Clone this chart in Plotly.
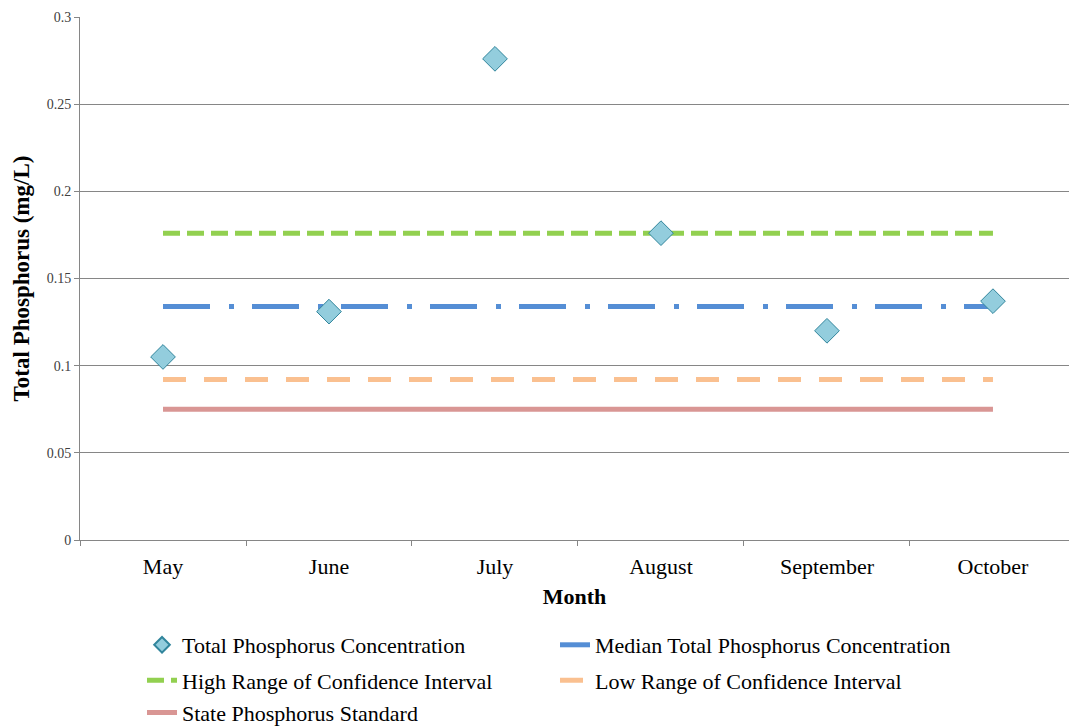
import plotly.graph_objects as go

months = ["May", "June", "July", "August", "September", "October"]
tp_conc = [0.105, 0.131, 0.276, 0.176, 0.120, 0.137]
median_tp = [0.134, 0.134, 0.134, 0.134, 0.134, 0.134]
high_ci = [0.176, 0.176, 0.176, 0.176, 0.176, 0.176]
low_ci = [0.092, 0.092, 0.092, 0.092, 0.092, 0.092]
state_std = [0.075, 0.075, 0.075, 0.075, 0.075, 0.075]
y_ticks = [0, 0.05, 0.1, 0.15, 0.2, 0.25, 0.3]

FONT = "Liberation Serif"

fig = go.Figure()

fig.add_trace(go.Scatter(
    x=months, y=median_tp, mode="lines", name="Median Total Phosphorus Concentration",
    line=dict(color="#558ED5", width=5, dash="47px,19px,5px,18px"),
    legend="legend", legendrank=2,
))
fig.add_trace(go.Scatter(
    x=months, y=high_ci, mode="lines", name="High Range of Confidence Interval",
    line=dict(color="#92D050", width=5, dash="17px,7px"),
    legend="legend2", legendrank=1,
))
fig.add_trace(go.Scatter(
    x=months, y=low_ci, mode="lines", name="Low Range of Confidence Interval",
    line=dict(color="#FAC090", width=5, dash="23px,18px"),
    legend="legend2", legendrank=2,
))
fig.add_trace(go.Scatter(
    x=months, y=state_std, mode="lines", name="State Phosphorus Standard",
    line=dict(color="#D99694", width=5),
    legend="legend3", legendrank=1,
))
fig.add_trace(go.Scatter(
    x=months, y=tp_conc, mode="markers", name="Total Phosphorus Concentration",
    marker=dict(symbol="diamond", size=19, color="#93CDDD",
                line=dict(color="#31859C", width=1)),
    legend="legend", legendrank=1,
))

leg_common = dict(
    orientation="h", x=0.0627, xanchor="left", yanchor="middle",
    yref="container",
    entrywidth=368, entrywidthmode="pixels",
    font=dict(family=FONT, size=22, color="#000000"),
    traceorder="normal", bgcolor="rgba(0,0,0,0)",
)

fig.update_layout(
    width=1069, height=727,
    margin=dict(l=80, r=0, t=17, b=187),
    paper_bgcolor="white", plot_bgcolor="white",
    font=dict(family=FONT, color="#000000"),
    showlegend=True,
    legend=dict(leg_common, y=0.1128, itemsizing="constant"),
    legend2=dict(leg_common, y=0.0640),
    legend3=dict(leg_common, y=0.0195),
)

fig.update_xaxes(
    type="category", categoryorder="array", categoryarray=months,
    range=[-0.5, 5.458],
    showgrid=False, zeroline=False,
    showline=True, linecolor="#868686", linewidth=1,
    ticks="outside", tickson="boundaries", ticklen=5, tickcolor="#868686",
    ticklabelstandoff=7,
    tickfont=dict(family=FONT, size=22, color="#000000"),
    title=dict(text="<b>Month</b>", font=dict(family=FONT, size=22, color="#000000"), standoff=10),
)
fig.update_yaxes(
    range=[0, 0.3], tickvals=y_ticks, ticktext=[str(v) for v in y_ticks],
    showgrid=True, gridcolor="#868686", gridwidth=1,
    zeroline=False,
    showline=True, linecolor="#868686", linewidth=1,
    ticks="outside", ticklen=5, tickcolor="#868686",
    tickfont=dict(family=FONT, size=14, color="#404040"),
    title=dict(text="<b>Total Phosphorus (mg/L)</b>", font=dict(family=FONT, size=23, color="#000000"), standoff=10),
)

fig.write_html(
    "out.html",
    config={"displayModeBar": False},
    post_script="document.body.style.margin='0';document.body.style.overflow='hidden';",
)
